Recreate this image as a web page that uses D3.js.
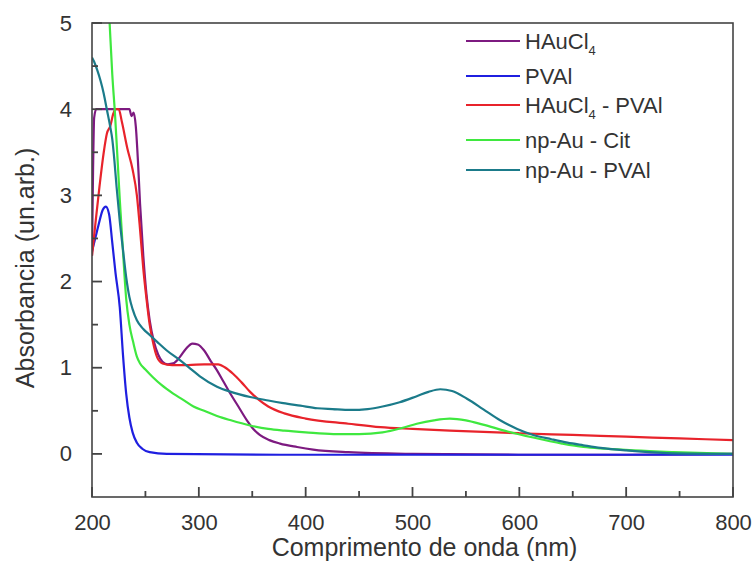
<!DOCTYPE html>
<html>
<head>
<meta charset="utf-8">
<script src="https://cdn.jsdelivr.net/npm/d3@7"></script>
<style>
  body { margin: 0; background: #fff; }
  text { font-family: "Liberation Sans", Arial, sans-serif; fill: #333; }
</style>
</head>
<body>
<svg width="755" height="569"></svg>
<script>
// wavelength (nm) / absorbance pairs
const hauclWl = [200,201,202,204,230,235,237,239,241,243,245,248,251,254,258,262,266,271,276,282,288,294,299,305,311,317,323,329,337,345,351,357,366,376,392,407,440,500,600,700,800];
const hauclAbs = [2.3,3.3,3.9,4.0,4.0,4.0,3.92,3.96,3.8,3.4,2.9,2.3,1.85,1.55,1.3,1.15,1.07,1.04,1.05,1.12,1.22,1.28,1.27,1.2,1.08,0.97,0.84,0.71,0.55,0.39,0.29,0.22,0.16,0.12,0.08,0.05,0.02,0.0,-0.01,-0.01,0.0];

const pvalWl = [200,203,206,210,213,216,219,222,226,229,232,235,238,242,247,254,270,400,600,800];
const pvalAbs = [2.35,2.5,2.65,2.83,2.87,2.78,2.45,2.1,1.7,1.15,0.7,0.42,0.25,0.13,0.06,0.02,0.0,-0.01,-0.01,-0.01];

const hpWl = [200,203,207,211,214,217,220,222,225,228,233,238,242,245,248,251,254,257,261,266,275,290,305,318,325,332,340,348,356,365,380,400,440,470,500,535,600,650,700,750,800];
const hpAbs = [2.3,2.65,3.1,3.5,3.72,3.8,3.95,4.0,4.0,3.85,3.55,3.3,3.0,2.6,2.15,1.8,1.5,1.3,1.12,1.05,1.03,1.03,1.04,1.04,1.0,0.93,0.83,0.72,0.63,0.55,0.47,0.41,0.35,0.31,0.29,0.27,0.24,0.22,0.2,0.18,0.16];

const citWl = [213,216.5,219,221.5,224,226,229,232,235,238.5,242,245,250,257,265,276,285,295,305,317,330,348,365,380,400,426,450,472,490,504,520,535,550,566,589,613,640,660,682,707,744,800];
const citAbs = [5.9,5.0,4.4,3.95,3.4,2.95,2.35,1.8,1.5,1.3,1.13,1.05,0.98,0.89,0.8,0.7,0.63,0.55,0.5,0.44,0.39,0.33,0.29,0.27,0.25,0.23,0.23,0.25,0.3,0.35,0.39,0.41,0.39,0.34,0.26,0.19,0.12,0.08,0.06,0.04,0.02,0.0];

const npWl = [200,202,205,208,211,214,217,219,221,223,226,229,232,235,238,242,248,254,261,270,282,292,301,317,330,348,365,379,395,411,425,442,458,472,488,504,515,526,537,551,566,582,598,613,630,645,660,676,700,738,800];
const npAbs = [4.6,4.55,4.45,4.33,4.18,3.99,3.8,3.65,3.4,3.1,2.7,2.37,2.05,1.82,1.68,1.55,1.45,1.38,1.3,1.2,1.09,0.99,0.9,0.78,0.72,0.66,0.62,0.59,0.56,0.53,0.52,0.51,0.52,0.55,0.6,0.67,0.72,0.75,0.73,0.64,0.52,0.39,0.29,0.22,0.17,0.13,0.1,0.07,0.04,0.01,0.0];

const seriesNames = ["HAuCl4", "PVAl", "HAuCl4 - PVAl", "np-Au - Cit", "np-Au - PVAl"];
const seriesColors = ["#7d1a80", "#1f1fe0", "#e8232b", "#3fe83f", "#1b7b8a"];
const xTicks = [200, 300, 400, 500, 600, 700, 800];
const xMinorTicks = [250, 350, 450, 550, 650, 750];
const yTicks = [0, 1, 2, 3, 4, 5];
const yMinorTicks = [0.5, 1.5, 2.5, 3.5, 4.5];

const series = [
  [hauclWl, hauclAbs], [pvalWl, pvalAbs], [hpWl, hpAbs], [citWl, citAbs], [npWl, npAbs]
].map((s, i) => ({
  name: seriesNames[i],
  color: seriesColors[i],
  pts: s[0].map((w, j) => [w, s[1][j]])
}));

const svg = d3.select("svg");
const pLeft = 92, pRight = 733, pTop = 23, pBottom = 497;

const x = d3.scaleLinear().domain([200, 800]).range([pLeft, pRight]);
const y = d3.scaleLinear().domain([-0.5, 5]).range([pBottom, pTop]);

svg.append("defs").append("clipPath").attr("id", "plotclip")
  .append("rect")
  .attr("x", pLeft).attr("y", pTop)
  .attr("width", pRight - pLeft).attr("height", pBottom - pTop);

// curves
const line = d3.line()
  .x(d => x(d[0]))
  .y(d => y(d[1]))
  .curve(d3.curveMonotoneX);

svg.append("g")
  .attr("clip-path", "url(#plotclip)")
  .selectAll("path")
  .data(series)
  .enter()
  .append("path")
  .attr("d", d => line(d.pts))
  .attr("fill", "none")
  .attr("stroke", d => d.color)
  .attr("stroke-width", 2.2)
  .attr("stroke-linejoin", "round");

const axisColor = "#444";

// tick labels through d3 axes (tick lines drawn separately below)
const xAxis = svg.append("g").attr("transform", `translate(0,${pBottom})`)
  .call(d3.axisBottom(x).tickValues(xTicks).tickSize(0).tickPadding(17).tickFormat(d3.format("d")));
const yAxis = svg.append("g").attr("transform", `translate(${pLeft},0)`)
  .call(d3.axisLeft(y).tickValues(yTicks).tickSize(0).tickPadding(20).tickFormat(d3.format("d")));

[xAxis, yAxis].forEach(g => {
  g.select(".domain").remove();
  g.selectAll("line").remove();
  g.selectAll("text")
    .style("font-family", "'Liberation Sans', Arial, sans-serif")
    .style("font-size", "22px")
    .attr("fill", "#333");
});

// inward tick marks
const ticks = svg.append("g").attr("stroke", axisColor).attr("stroke-width", 1.8);
ticks.selectAll("line.xt")
  .data(xTicks.map(v => [v, 10]).concat(xMinorTicks.map(v => [v, 6])))
  .enter().append("line")
  .attr("class", "xt")
  .attr("x1", d => x(d[0])).attr("x2", d => x(d[0]))
  .attr("y1", pBottom).attr("y2", d => pBottom - d[1]);
ticks.selectAll("line.yt")
  .data(yTicks.map(v => [v, 10]).concat(yMinorTicks.map(v => [v, 6])))
  .enter().append("line")
  .attr("class", "yt")
  .attr("y1", d => y(d[0])).attr("y2", d => y(d[0]))
  .attr("x1", pLeft).attr("x2", d => pLeft + d[1]);

// frame
svg.append("rect")
  .attr("x", pLeft).attr("y", pTop)
  .attr("width", pRight - pLeft).attr("height", pBottom - pTop)
  .attr("fill", "none")
  .attr("stroke", axisColor)
  .attr("stroke-width", 1.6);

// axis titles
svg.append("text")
  .attr("x", (pLeft + pRight) / 2 + 12)
  .attr("y", 556)
  .attr("text-anchor", "middle")
  .style("font-size", "25px")
  .text("Comprimento de onda (nm)");

svg.append("text")
  .attr("transform", "translate(34,268) rotate(-90)")
  .attr("text-anchor", "middle")
  .style("font-size", "25px")
  .text("Absorbancia (un.arb.)");

// legend
const legendY = [41, 76, 105, 140, 170];
const legend = svg.append("g");
series.forEach((s, i) => {
  const ly = legendY[i];
  legend.append("line")
    .attr("x1", 466).attr("x2", 520)
    .attr("y1", ly).attr("y2", ly)
    .attr("stroke", s.color)
    .attr("stroke-width", 2.2);
  const t = legend.append("text")
    .attr("x", 525)
    .attr("y", ly + 8)
    .style("font-size", "22px");
  if (s.name.startsWith("HAuCl4")) {
    t.append("tspan").text("HAuCl");
    t.append("tspan").attr("dy", 6).style("font-size", "13px").text("4");
    t.append("tspan").attr("dy", -6).text(s.name.slice(6));
  } else {
    t.text(s.name);
  }
});
</script>
</body>
</html>
